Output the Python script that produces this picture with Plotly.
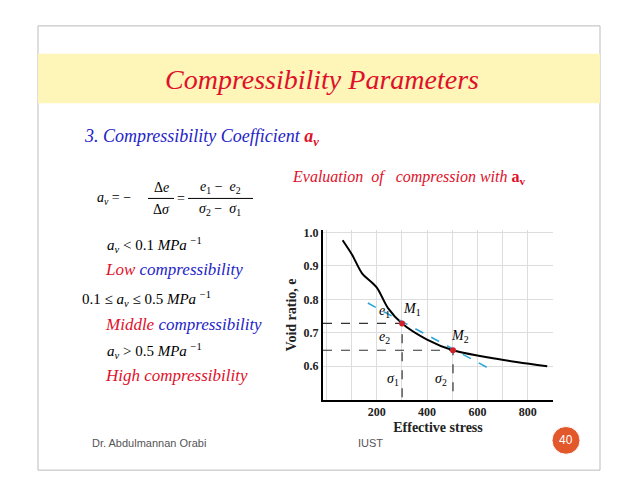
import plotly.graph_objects as go

W, H = 638, 493
stress = [65, 103, 142, 200, 245, 301, 400, 503, 645, 761, 877]
void_ratio = [0.977, 0.933, 0.878, 0.836, 0.774, 0.728, 0.680, 0.648, 0.626, 0.612, 0.600]
tangent_x = [165, 652]
tangent_y = [0.789, 0.591]
pts_x = [301, 503]
pts_y = [0.728, 0.648]
xticks = [200, 400, 600, 800]
yticks = [0.6, 0.7, 0.8, 0.9, 1.0]

OFF = 8  # default page margin
FW, FH = W - 2 * OFF, H - 2 * OFF
def px(x): return (x - OFF) / FW
def py(y): return 1 - (y - OFF) / FH

SERIF = "Liberation Serif"
RED = "#e0102a"
BLUE = "#2424c8"

fig = go.Figure()
fig.add_trace(go.Scatter(x=stress, y=void_ratio, mode="lines", line=dict(color="black", width=2, shape="spline", smoothing=0.8), hoverinfo="skip"))
fig.add_trace(go.Scatter(x=tangent_x, y=tangent_y, mode="lines", line=dict(color="#2aa6d6", width=1.6, dash="dash")))
for xv, yv in zip(pts_x, pts_y):
    fig.add_trace(go.Scatter(x=[-13, xv, xv], y=[yv, yv, 0.5], mode="lines", line=dict(color="#333", width=1.2, dash="dash")))
fig.add_trace(go.Scatter(x=pts_x, y=pts_y, mode="markers", marker=dict(color="#d0202a", size=6)))

fig.update_layout(
    width=FW, height=FH, margin=dict(l=0, r=0, t=0, b=0), showlegend=False,
    paper_bgcolor="white", plot_bgcolor="white",
    xaxis=dict(domain=[px(323), px(553)], range=[-13, 900], tickvals=xticks, ticktext=["<b>%d</b>" % t for t in xticks],
               showgrid=True, gridcolor="#dddddd", minor=dict(dtick=100, tick0=0, showgrid=True, gridcolor="#dddddd"),
               showline=True, linecolor="black", linewidth=2, ticks="", zeroline=False,
               tickfont=dict(family=SERIF, size=12, color="#222"),
               title=dict(text="<b>Effective stress</b>", font=dict(family=SERIF, size=14, color="#222"), standoff=4)),
    yaxis=dict(domain=[py(399), py(228)], range=[0.5, 1.007], tickvals=yticks, ticktext=["<b>0.6</b>", "<b>0.7</b>", "<b>0.8</b>", "<b>0.9</b>", "<b>1.0</b>"],
               showgrid=True, gridcolor="#dddddd", showline=True, linecolor="black", linewidth=2, ticks="", zeroline=False,
               tickfont=dict(family=SERIF, size=12, color="#222"),
               title=dict(text="<b>Void ratio, e</b>", font=dict(family=SERIF, size=14, color="#222"), standoff=4)),
)

# slide decorations
fig.add_shape(type="rect", xref="paper", yref="paper", x0=px(38), x1=px(600), y0=py(470), y1=py(22),
              line=dict(color="#bbbbbb", width=1), layer="below")
fig.add_shape(type="rect", xref="paper", yref="paper", x0=px(38), x1=px(600), y0=py(100), y1=py(50),
              fillcolor="#fdf6b8", line=dict(width=0), layer="below")
fig.add_shape(type="circle", xref="paper", yref="paper", x0=px(552), x1=px(580), y0=py(454), y1=py(426),
              fillcolor="#e2582a", line=dict(color="white", width=1))
# fraction bars
fig.add_shape(type="line", xref="paper", yref="paper", x0=px(148), x1=px(174), y0=py(196), y1=py(196), line=dict(color="black", width=1))
fig.add_shape(type="line", xref="paper", yref="paper", x0=px(188), x1=px(253), y0=py(196), y1=py(196), line=dict(color="black", width=1))

def txt(x, y, s, size=14, color="black", family=SERIF, anchor="left"):
    fig.add_annotation(xref="paper", yref="paper", x=px(x), y=py(y), text=s, showarrow=False,
                       xanchor=anchor, yanchor="middle", font=dict(family=family, size=size, color=color))

txt(322, 76, "<i>Compressibility Parameters</i>", 28, RED, anchor="center")
txt(82, 135, "<i>3. Compressibility Coefficient </i><span style='color:%s'><b><i>a<sub>v</sub></i></b></span>" % RED, 18, BLUE)
txt(290, 175, "<i>Evaluation  of   compression with </i><b>a<sub>v</sub></b>", 16, RED)
txt(95, 196, "<i>a<sub>v</sub></i> = −", 14)
txt(161, 185, "Δ<i>e</i>", 14, anchor="center")
txt(161, 207, "Δ<i>σ</i>", 14, anchor="center")
txt(181, 196, "=", 14, anchor="center")
txt(220, 185, "<i>e</i><sub>1</sub> −  <i>e</i><sub>2</sub>", 14, anchor="center")
txt(220, 207, "<i>σ</i><sub>2</sub> −  <i>σ</i><sub>1</sub>", 14, anchor="center")
txt(105, 243, "<i>a<sub>v</sub></i> &lt; 0.1 <i>MPa</i> <sup>−1</sup>", 15)
txt(103, 268, "<i><span style='color:%s'>Low</span> compressibility</i>" % RED, 17, BLUE)
txt(80, 297, "0.1 ≤ <i>a<sub>v</sub></i> ≤ 0.5 <i>MPa</i> <sup>−1</sup>", 15)
txt(103, 323, "<i><span style='color:%s'>Middle</span> compressibility</i>" % RED, 17, BLUE)
txt(105, 350, "<i>a<sub>v</sub></i> &gt; 0.5 <i>MPa</i> <sup>−1</sup>", 15)
txt(103, 375, "<i>High compressibility</i>", 17, RED)
txt(90, 443, "Dr. Abdulmannan Orabi", 11, "#555", "Liberation Sans")
txt(370, 443, "IUST", 11, "#555", "Liberation Sans", "center")
txt(566, 440, "40", 12, "white", "Liberation Sans", "center")

for x, y, s in [(230, 0.765, "<i>e</i><sub>1</sub>"), (340, 0.77, "<i>M</i><sub>1</sub>"), (230, 0.686, "<i>e</i><sub>2</sub>"),
                (530, 0.688, "<i>M</i><sub>2</sub>"), (265, 0.56, "<i>σ</i><sub>1</sub>"), (455, 0.56, "<i>σ</i><sub>2</sub>")]:
    fig.add_annotation(x=x, y=y, text=s, showarrow=False, font=dict(family=SERIF, size=14, color="black"))

fig.write_html("out.html")
